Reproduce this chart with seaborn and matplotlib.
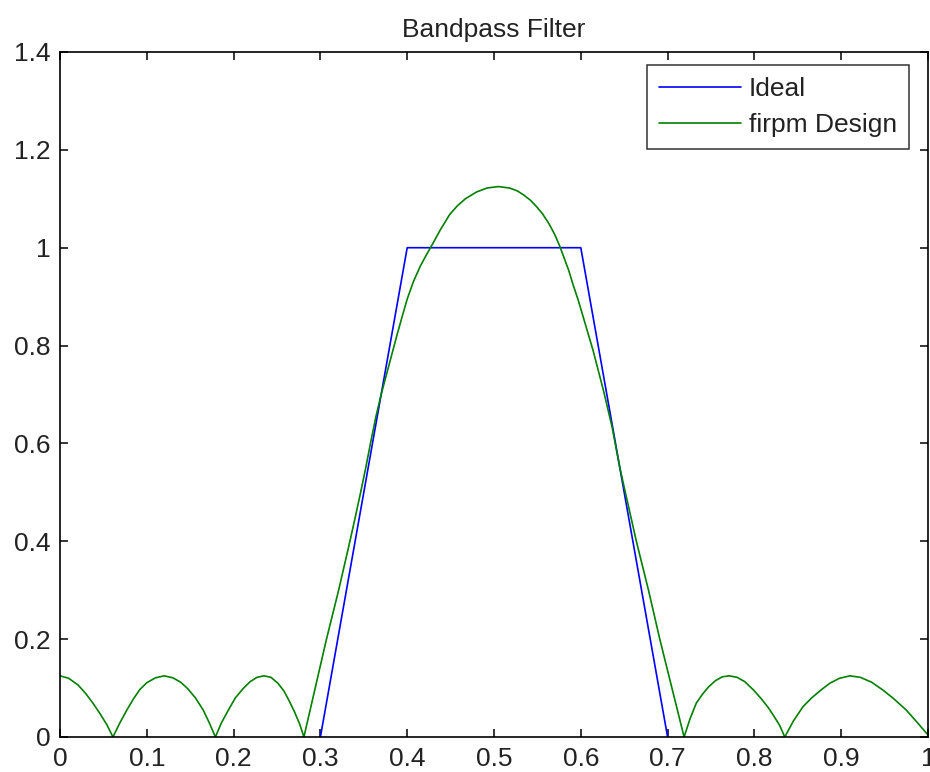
import matplotlib
matplotlib.use("Agg")
import matplotlib.pyplot as plt
import seaborn as sns
import pandas as pd

# Ideal bandpass magnitude: transition bands 0.3-0.4 and 0.6-0.7
ideal_f = [0.3, 0.4, 0.6, 0.7]
ideal_mag = [0.0, 1.0, 1.0, 0.0]

# Equiripple (firpm) design magnitude response
firpm_f = [0.000, 0.010, 0.021, 0.030, 0.038, 0.046, 0.054, 0.061,
           0.069, 0.077, 0.085, 0.092, 0.100, 0.110, 0.120, 0.130, 0.139, 0.147,
           0.156, 0.165, 0.172, 0.179,
           0.186, 0.194, 0.202, 0.211, 0.219, 0.227, 0.235, 0.243, 0.251, 0.258,
           0.264, 0.270, 0.276, 0.281,
           0.294, 0.307, 0.321, 0.334, 0.340, 0.346, 0.352, 0.358, 0.364, 0.370,
           0.376, 0.382, 0.388, 0.394, 0.400, 0.407, 0.415, 0.422, 0.430, 0.438,
           0.449, 0.458, 0.467, 0.480, 0.492, 0.505, 0.518, 0.527, 0.534, 0.542,
           0.549, 0.556, 0.563, 0.570, 0.576, 0.581, 0.586, 0.591, 0.597, 0.605,
           0.614, 0.620, 0.626, 0.636, 0.645, 0.655, 0.664, 0.678, 0.691, 0.705,
           0.719,
           0.726, 0.733, 0.740, 0.747, 0.755, 0.763, 0.771, 0.780, 0.789, 0.799,
           0.808, 0.816, 0.822, 0.829, 0.835,
           0.845, 0.856, 0.866, 0.876, 0.887, 0.898, 0.910, 0.922, 0.935, 0.948,
           0.960, 0.975, 0.988, 1.000]
firpm_mag = [0.125, 0.120, 0.106, 0.088, 0.069, 0.048, 0.025, 0.000,
             0.029, 0.055, 0.079, 0.097, 0.111, 0.121, 0.125, 0.121, 0.112, 0.099,
             0.080, 0.055, 0.029, 0.000,
             0.029, 0.055, 0.080, 0.099, 0.113, 0.122, 0.125, 0.122, 0.110, 0.094,
             0.074, 0.052, 0.027, 0.000,
             0.100, 0.200, 0.300, 0.400, 0.448, 0.497, 0.548, 0.603, 0.655, 0.700,
             0.740, 0.780, 0.820, 0.858, 0.895, 0.930, 0.962, 0.985, 1.010, 1.036,
             1.068, 1.086, 1.100, 1.114, 1.122, 1.125, 1.122, 1.116, 1.108, 1.097,
             1.084, 1.069, 1.050, 1.027, 1.002, 0.978, 0.954, 0.925, 0.893, 0.845,
             0.791, 0.750, 0.709, 0.634, 0.550, 0.471, 0.400, 0.300, 0.200, 0.100,
             0.000,
             0.038, 0.069, 0.087, 0.102, 0.115, 0.123, 0.125, 0.122, 0.113, 0.096,
             0.078, 0.060, 0.044, 0.024, 0.000,
             0.033, 0.062, 0.080, 0.095, 0.110, 0.120, 0.125, 0.122, 0.112, 0.096,
             0.079, 0.055, 0.029, 0.004]

df = pd.concat([
    pd.DataFrame({"f": ideal_f, "mag": ideal_mag, "series": "Ideal"}),
    pd.DataFrame({"f": firpm_f, "mag": firpm_mag, "series": "firpm Design"}),
], ignore_index=True)

sns.set_theme(style="white")
plt.rcParams["font.family"] = ["Liberation Sans", "DejaVu Sans"]

fig = plt.figure(figsize=(9.3, 7.72), dpi=100)
ax = fig.add_axes([60 / 930, 35 / 772, 868 / 930, 685 / 772])

sns.lineplot(data=df, x="f", y="mag", hue="series", sort=False,
             palette={"Ideal": "#0000ff", "firpm Design": "#008000"},
             linewidth=1.2, estimator=None, ax=ax)

ax.set_xlim(0, 1)
ax.set_ylim(0, 1.4)
ax.set_xticks([0, 0.1, 0.2, 0.3, 0.4, 0.5, 0.6, 0.7, 0.8, 0.9, 1])
ax.set_xticklabels(["0", "0.1", "0.2", "0.3", "0.4", "0.5", "0.6", "0.7", "0.8", "0.9", "1"])
ax.set_yticks([0, 0.2, 0.4, 0.6, 0.8, 1, 1.2, 1.4])
ax.set_yticklabels(["0", "0.2", "0.4", "0.6", "0.8", "1", "1.2", "1.4"])
ax.set_xlabel("")
ax.set_ylabel("")

for side in ["left", "right", "top", "bottom"]:
    ax.spines[side].set_visible(True)
    ax.spines[side].set_color("black")
    ax.spines[side].set_linewidth(1.2)

ax.tick_params(axis="both", which="major", direction="in", length=6, width=1.1,
               color="black", labelsize=19, labelcolor="#222222",
               top=True, right=True, bottom=True, left=True, pad=7)

ax.set_title("Bandpass Filter", fontsize=19, color="#222222", pad=11)

leg = ax.legend(loc="upper right", bbox_to_anchor=(0.978, 0.981),
                borderaxespad=0, fontsize=19, frameon=True, fancybox=False,
                edgecolor="black", handlelength=3.1, handletextpad=0.3,
                borderpad=0.45, labelspacing=0.45, title=None)
leg.get_frame().set_linewidth(1.1)
for t in leg.get_texts():
    t.set_color("#222222")

fig.savefig("out.png", dpi=100, facecolor="white")
